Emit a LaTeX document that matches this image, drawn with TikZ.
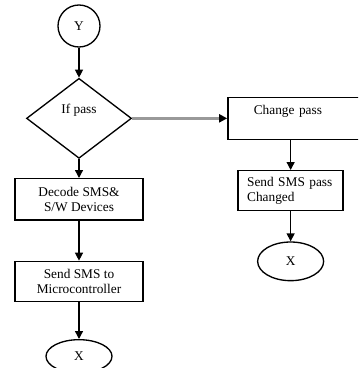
\documentclass[tikz,border=0pt]{standalone}
\usepackage{fontspec}
\setmainfont{Liberation Serif}
\usepackage{xcolor}
\usepackage{tikz}
\usetikzlibrary{shapes,shapes.geometric,arrows.meta,positioning,calc}

\begin{document}
\begin{tikzpicture}[
    x=0.75pt, y=-0.75pt,
    line width=1pt,
    font=\fontsize{10}{11.5}\selectfont,
    conn/.style={-{Triangle[width=6pt,length=6pt]}},
    grayconn/.style={draw=black!40, line width=2pt, -{Triangle[width=6pt,length=6pt,color=black]}},
    term/.style={circle, draw, minimum size=31.5pt, inner sep=0pt},
    endx/.style={ellipse, draw, minimum width=49.5pt, minimum height=29pt, inner sep=0pt},
    decision/.style={diamond, draw, aspect=1.3, minimum width=78.75pt, minimum height=60pt, inner sep=0pt, text height=6.8pt, text depth=14pt},
    proc/.style={rectangle, draw, minimum width=96pt, minimum height=31pt, align=center, inner sep=2pt}
]
    \useasboundingbox (0,0) rectangle (358,368);
    \clip (0,0) rectangle (358,368);

    \node [term] (y) at (79,26) {Y};
    \node [decision, below=22.5pt of y] (ifpass) {If pass};
    \node [proc, below=14.25pt of ifpass] (decode) {Decode SMS\&\\S/W Devices};
    \node [proc, below=30pt of decode, minimum height=30pt] (tomcu) {Send SMS to\\Microcontroller};
    \node [endx, below=27.75pt of tomcu, minimum height=25pt] (xa) {X};

    \node [rectangle, draw, right=71.25pt of ifpass, align=left, text width=72pt, inner xsep=19.5pt, inner ysep=3pt, text height=9.75pt, text depth=15.75pt] (change) {Change pass};
    \node [rectangle, draw, below=22.5pt of change.south west, xshift=47.6pt, align=left, text width=65.25pt, inner xsep=6.75pt, minimum height=30pt] (pass) {Send SMS pass\\Changed};
    \node [endx, below=22.5pt of pass] (xb) {X};

    \draw [conn] (y) -- (ifpass);
    \draw [conn] (ifpass) -- (decode);
    \draw [conn] (decode) -- (tomcu);
    \draw [conn] (tomcu) -- (xa);
    \draw [grayconn] (ifpass) -- (change);
    \draw [conn] (change.south -| pass.north) -- (pass);
    \draw [conn] (pass) -- (xb);
\end{tikzpicture}
\end{document}
